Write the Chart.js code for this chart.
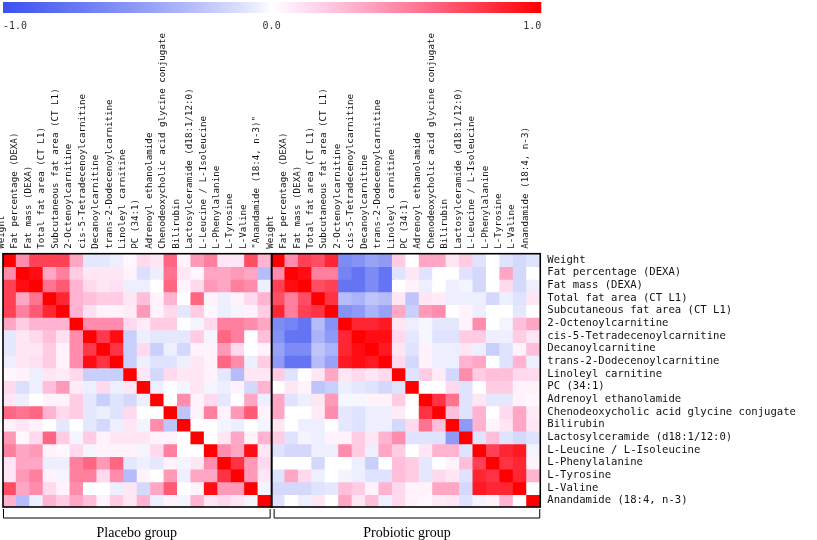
<!DOCTYPE html>
<html>
<head>
<meta charset="utf-8">
<script src="https://cdn.jsdelivr.net/npm/chart.js@4.4.0/dist/chart.umd.min.js"></script>
<style>
  html, body { margin: 0; padding: 0; background: #fff; }
</style>
</head>
<body>
<canvas id="heat" width="817" height="540"></canvas>
<script>
// row / column names
const variables = [
  'Weight', 'Fat percentage (DEXA)', 'Fat mass (DEXA)', 'Total fat area (CT L1)',
  'Subcutaneous fat area (CT L1)', '2-Octenoylcarnitine', 'cis-5-Tetradecenoylcarnitine',
  'Decanoylcarnitine', 'trans-2-Dodecenoylcarnitine', 'Linoleyl carnitine', 'PC (34:1)',
  'Adrenoyl ethanolamide', 'Chenodeoxycholic acid glycine conjugate', 'Bilirubin',
  'Lactosylceramide (d18:1/12:0)', 'L-Leucine / L-Isoleucine', 'L-Phenylalanine',
  'L-Tyrosine', 'L-Valine', 'Anandamide (18:4, n-3)'
];
const placeboColLabels = variables.slice(0, 19).concat(['"Anandamide (18:4, n-3)"']);
const groups = ['Placebo group', 'Probiotic group'];
const scaleTicks = ['-1.0', '0.0', '1.0'];

// correlation matrices
const placebo = [
  [1, 0.45, 0.75, 0.75, 0.75, 0.35, -0.08, -0.08, -0.05, 0.03, 0.15, 0.1, 0.6, 0.05, 0.4, 0.5, 0.1, 0.1, 0.7, 0.3],
  [0.45, 1, 0.95, 0.35, 0.5, 0.2, 0.1, 0.1, 0.1, 0.05, -0.12, -0.05, 0.55, 0.1, 0.03, 0.35, 0.35, 0.4, 0.35, -0.3],
  [0.75, 0.95, 1, 0.55, 0.65, 0.3, 0.15, 0.1, 0.12, -0.05, -0.05, 0.0, 0.6, 0.05, 0.15, 0.4, 0.35, 0.5, 0.45, -0.05],
  [0.75, 0.35, 0.55, 1, 0.85, 0.3, 0.25, 0.2, 0.2, 0.1, 0.25, 0.05, 0.3, 0.0, 0.6, 0.05, -0.05, 0.05, 0.15, 0.3],
  [0.75, 0.5, 0.65, 0.85, 1, 0.3, 0.12, 0.05, 0.05, 0.08, 0.4, 0.05, 0.15, -0.08, 0.2, 0.03, -0.05, -0.03, 0.05, 0.2],
  [0.35, 0.2, 0.3, 0.3, 0.3, 1, 0.45, 0.45, 0.45, 0.15, 0.08, 0.2, 0.2, 0.0, -0.03, 0.15, 0.5, 0.5, 0.45, 0.35],
  [-0.08, 0.1, 0.15, 0.25, 0.12, 0.45, 1, 0.78, 0.95, -0.2, -0.05, -0.08, -0.08, -0.08, 0.2, -0.03, 0.6, 0.5, 0.0, 0.25],
  [-0.08, 0.1, 0.1, 0.2, 0.05, 0.45, 0.78, 1, 0.8, -0.2, 0.15, -0.2, -0.05, -0.15, 0.05, 0.05, 0.4, 0.15, 0.0, 0.05],
  [-0.05, 0.1, 0.12, 0.2, 0.05, 0.45, 0.95, 0.8, 1, -0.2, -0.05, -0.1, -0.1, -0.05, 0.1, 0.05, 0.6, 0.45, -0.05, 0.2],
  [0.03, 0.05, -0.05, 0.1, 0.08, 0.15, -0.2, -0.2, -0.2, 1, 0.1, -0.15, 0.15, 0.1, 0.1, 0.05, -0.08, -0.3, 0.1, 0.1],
  [0.15, -0.12, -0.05, 0.25, 0.4, 0.08, -0.05, 0.15, -0.05, 0.1, 1, -0.05, 0.0, -0.03, 0.1, -0.03, -0.05, 0.05, -0.15, 0.3],
  [0.1, -0.05, 0.0, 0.05, 0.05, 0.2, -0.08, -0.2, -0.1, -0.15, -0.05, 1, 0.0, 0.45, 0.05, 0.15, -0.08, 0.0, 0.35, -0.05],
  [0.6, 0.55, 0.6, 0.3, 0.15, 0.2, -0.08, -0.05, -0.1, 0.15, 0.0, 0.0, 1, -0.25, 0.05, 0.5, 0.05, 0.4, 0.65, 0.05],
  [0.05, 0.1, 0.05, 0.0, -0.08, 0.0, -0.08, -0.15, -0.05, 0.1, -0.03, 0.45, -0.25, 1, 0.0, 0.0, -0.03, -0.05, 0.0, -0.03],
  [0.4, 0.03, 0.15, 0.6, 0.2, -0.03, 0.2, 0.05, 0.1, 0.1, 0.1, 0.05, 0.05, 0.0, 1, 0.0, 0.1, 0.35, 0.05, 0.3],
  [0.5, 0.35, 0.4, 0.05, 0.03, 0.15, -0.03, 0.05, 0.05, 0.05, -0.03, 0.15, 0.5, 0.0, 0.0, 1, 0.45, 0.35, 0.95, 0.1],
  [0.1, 0.35, 0.35, -0.05, -0.05, 0.5, 0.6, 0.4, 0.6, -0.08, -0.05, -0.08, 0.05, -0.03, 0.1, 0.45, 1, 0.8, 0.4, 0.15],
  [0.1, 0.4, 0.5, 0.05, -0.03, 0.5, 0.5, 0.15, 0.45, -0.3, 0.05, 0.0, 0.4, -0.05, 0.35, 0.35, 0.8, 1, 0.4, 0.1],
  [0.7, 0.35, 0.45, 0.15, 0.05, 0.45, 0.0, 0.0, -0.05, 0.1, -0.15, 0.35, 0.65, 0.0, 0.05, 0.95, 0.4, 0.4, 1, -0.03],
  [0.3, -0.3, -0.05, 0.3, 0.2, 0.35, 0.25, 0.05, 0.2, 0.1, 0.3, -0.05, 0.05, -0.03, 0.3, 0.1, 0.15, 0.1, -0.03, 1]
];

const probiotic = [
  [1, 0.45, 0.75, 0.7, 0.85, -0.6, -0.55, -0.45, -0.5, 0.2, 0.0, 0.35, 0.35, 0.1, 0.2, -0.1, 0.0, -0.1, -0.15, -0.1],
  [0.45, 1, 0.95, 0.5, 0.5, -0.65, -0.75, -0.6, -0.75, -0.1, 0.1, -0.1, 0.0, 0.0, -0.1, -0.15, 0.0, 0.35, -0.15, 0.0],
  [0.75, 0.95, 1, 0.7, 0.75, -0.75, -0.75, -0.6, -0.75, 0.0, 0.05, -0.05, 0.0, -0.05, -0.03, -0.15, 0.0, 0.15, -0.15, -0.05],
  [0.7, 0.5, 0.7, 1, 0.8, -0.3, -0.35, -0.25, -0.3, 0.1, -0.25, 0.1, 0.08, -0.05, -0.05, -0.05, -0.15, -0.05, -0.1, 0.1],
  [0.85, 0.5, 0.75, 0.8, 1, -0.55, -0.5, -0.35, -0.45, 0.35, -0.2, 0.4, 0.45, 0.0, 0.05, -0.05, 0.0, 0.0, -0.08, 0.0],
  [-0.6, -0.65, -0.75, -0.3, -0.55, 1, 0.85, 0.85, 0.9, 0.1, -0.05, -0.02, -0.08, -0.08, 0.05, 0.45, 0.0, -0.03, 0.25, 0.35],
  [-0.55, -0.75, -0.75, -0.35, -0.5, 0.85, 1, 0.95, 0.95, 0.15, -0.08, -0.02, -0.1, -0.1, 0.2, 0.2, -0.05, -0.05, 0.2, 0.1],
  [-0.45, -0.6, -0.6, -0.25, -0.35, 0.85, 0.95, 1, 0.9, 0.1, -0.1, 0.05, -0.05, -0.05, 0.1, -0.05, -0.2, -0.1, 0.05, 0.25],
  [-0.5, -0.75, -0.75, -0.3, -0.45, 0.9, 0.95, 0.9, 1, 0.15, -0.15, 0.05, -0.05, -0.05, 0.3, 0.35, 0.0, -0.1, 0.3, -0.05],
  [0.2, -0.1, 0.0, 0.1, 0.35, 0.1, 0.15, 0.1, 0.15, 1, -0.1, 0.2, 0.08, -0.15, 0.45, 0.2, 0.25, 0.25, 0.15, 0.15],
  [0.0, 0.1, 0.05, -0.25, -0.2, -0.05, -0.08, -0.1, -0.15, -0.1, 1, 0.0, 0.0, 0.15, -0.1, 0.0, 0.2, 0.2, 0.05, 0.05],
  [0.35, -0.1, -0.05, 0.1, 0.4, -0.02, -0.02, 0.05, 0.05, 0.2, 0.0, 1, 0.8, 0.55, -0.1, 0.1, -0.08, -0.08, 0.05, 0.03],
  [0.35, 0.0, 0.0, 0.08, 0.45, -0.08, -0.1, -0.05, -0.05, 0.08, 0.0, 0.8, 1, 0.25, -0.1, 0.3, 0.0, 0.15, 0.35, 0.08],
  [0.1, 0.0, -0.05, -0.05, 0.0, -0.08, -0.1, -0.05, -0.05, -0.15, 0.15, 0.55, 0.25, 1, -0.5, 0.3, 0.05, 0.1, 0.35, 0.1],
  [0.2, -0.1, -0.03, -0.05, 0.05, 0.05, 0.2, 0.1, 0.3, 0.45, -0.1, -0.1, -0.1, -0.5, 1, -0.1, 0.25, -0.1, -0.15, -0.1],
  [-0.1, -0.15, -0.15, -0.05, -0.05, 0.45, 0.2, -0.05, 0.35, 0.2, 0.0, 0.1, 0.3, 0.3, -0.1, 1, 0.75, 0.85, 0.9, -0.03],
  [0.0, 0.0, 0.0, -0.15, 0.0, 0.0, -0.05, -0.2, 0.0, 0.25, 0.2, -0.08, 0.0, 0.05, 0.25, 0.75, 1, 0.8, 0.85, 0.05],
  [-0.1, 0.35, 0.15, -0.05, 0.0, -0.03, -0.05, -0.1, -0.1, 0.25, 0.2, -0.08, 0.15, 0.1, -0.1, 0.85, 0.8, 1, 0.85, 0.3],
  [-0.15, -0.15, -0.15, -0.1, -0.08, 0.25, 0.2, 0.05, 0.3, 0.15, 0.05, 0.05, 0.35, 0.35, -0.15, 0.9, 0.85, 0.85, 1, 0.0],
  [-0.1, 0.0, -0.05, 0.1, 0.0, 0.35, 0.1, 0.25, -0.05, 0.15, 0.05, 0.03, 0.08, 0.1, -0.1, -0.03, 0.05, 0.3, 0.0, 1]
];

// blue (-1) -> white (0) -> red (+1)
function corrColor(v) {
  if (v >= 0) {
    const g = Math.round(255 * (1 - v));
    const b = Math.round(255 * (1 - Math.pow(v, 1.4)));
    return `rgb(255,${g},${b})`;
  }
  const t = Math.pow(-v, 0.8);
  return `rgb(${Math.round(255 - 195 * t)},${Math.round(255 - 175 * t)},${Math.round(255 - 15 * t)})`;
}

const colLabels = placeboColLabels.concat(variables);

// one floating-bar dataset per matrix row
const datasets = variables.map((name, r) => ({
  label: name,
  data: colLabels.map(() => [r, r + 1]),
  backgroundColor: placebo[r].concat(probiotic[r]).map(corrColor),
  borderWidth: 0,
  inflateAmount: 0.6,
  grouped: false,
  categoryPercentage: 1,
  barPercentage: 1
}));

const monoFont = 'DejaVu Sans Mono';

const decor = {
  id: 'decor',
  afterDraw(chart) {
    const { ctx, chartArea: a, scales: { x } } = chart;
    const mid = (x.getPixelForValue(19) + x.getPixelForValue(20)) / 2;
    ctx.save();

    // colour scale at the top
    const grad = ctx.createLinearGradient(a.left, 0, a.right, 0);
    for (let i = 0; i <= 40; i++) {
      grad.addColorStop(i / 40, corrColor(-1 + i / 20));
    }
    ctx.fillStyle = grad;
    ctx.fillRect(a.left, 2, a.right - a.left + 1, 11);
    ctx.fillStyle = '#333';
    ctx.font = `10px ${monoFont}`;
    ctx.textBaseline = 'middle';
    ctx.textAlign = 'left';
    ctx.fillText(scaleTicks[0], a.left, 26);
    ctx.textAlign = 'center';
    ctx.fillText(scaleTicks[1], mid, 26);
    ctx.textAlign = 'right';
    ctx.fillText(scaleTicks[2], a.right + 1, 26);

    // frames round both maps
    ctx.strokeStyle = '#000';
    ctx.lineWidth = 1.6;
    ctx.strokeRect(a.left, a.top, mid - a.left, a.bottom - a.top);
    ctx.strokeRect(mid, a.top, a.right - mid, a.bottom - a.top);

    // brackets + group names
    ctx.lineWidth = 1;
    const y0 = a.bottom + 2, y1 = a.bottom + 11;
    [[a.left + 0.5, mid - 1.5], [mid + 2.5, a.right - 0.5]].forEach(([l, r], i) => {
      ctx.beginPath();
      ctx.moveTo(l, y0);
      ctx.lineTo(l, y1);
      ctx.lineTo(r, y1);
      ctx.lineTo(r, y0);
      ctx.stroke();
      ctx.fillStyle = '#000';
      ctx.font = '14px "Liberation Serif"';
      ctx.textAlign = 'center';
      ctx.fillText(groups[i], (l + r) / 2, a.bottom + 26);
    });
    ctx.restore();
  }
};

new Chart(document.getElementById('heat'), {
  type: 'bar',
  data: { labels: colLabels, datasets: datasets },
  options: {
    responsive: false,
    animation: false,
    devicePixelRatio: 1,
    layout: { padding: { top: 28, right: 14, bottom: 33, left: 3 } },
    plugins: {
      legend: { display: false },
      tooltip: { enabled: false }
    },
    scales: {
      x: {
        type: 'category',
        position: 'top',
        offset: true,
        grid: { display: false, drawTicks: false },
        border: { display: false },
        afterFit: (scale) => { scale.paddingLeft = 0; scale.paddingRight = 0; },
        ticks: {
          autoSkip: false,
          minRotation: 90,
          maxRotation: 90,
          padding: 5,
          labelOffset: 3,
          color: '#111',
          font: { family: monoFont, size: 9.2 }
        }
      },
      y: { type: 'linear', min: 0, max: 20, reverse: true, display: false },
      yr: {
        type: 'category',
        labels: variables,
        position: 'right',
        offset: true,
        grid: { display: false, drawTicks: false },
        border: { display: false },
        ticks: {
          autoSkip: false,
          padding: 7,
          color: '#111',
          font: { family: monoFont, size: 10.6 }
        }
      }
    }
  },
  plugins: [decor]
});
</script>
</body>
</html>
